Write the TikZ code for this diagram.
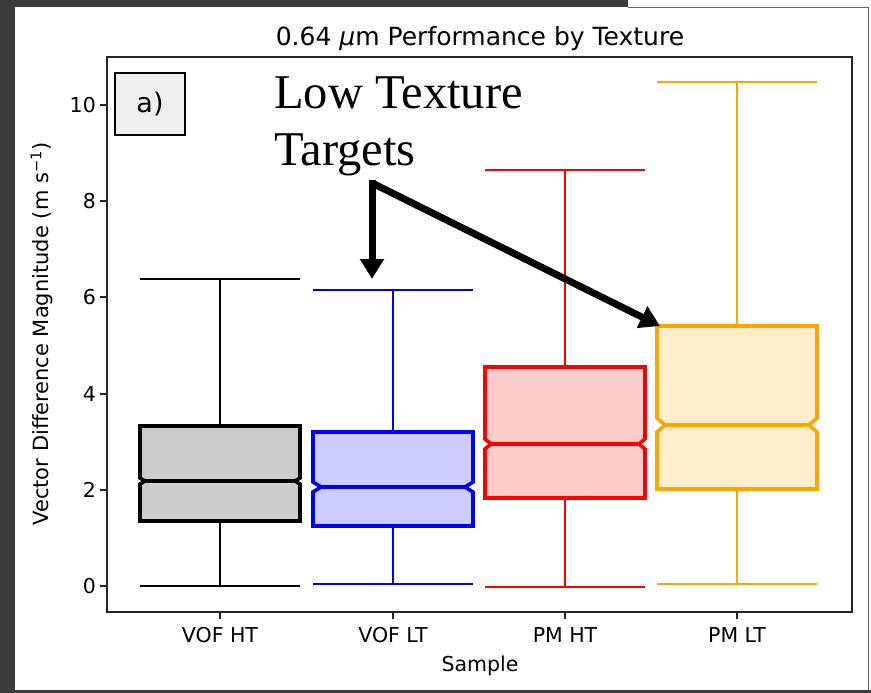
\documentclass[tikz,border=0pt]{standalone}
\usepackage{fontspec}
\setmainfont{DejaVu Sans}
\newfontfamily\annfont{Liberation Serif}
\usetikzlibrary{arrows.meta}

\definecolor{framegray}{HTML}{3C3C3C}
\definecolor{graybox}{HTML}{CCCCCC}
\definecolor{bluebox}{HTML}{CCCCFF}
\definecolor{redbox}{HTML}{FFCCCC}
\definecolor{mplorange}{HTML}{FFA500}
\definecolor{orangebox}{HTML}{FFEDCC}
\definecolor{labelbox}{HTML}{EEEEEE}

% notched box with whiskers and caps (pixel units, y downwards)
% #1 centre, #2 lower cap, #3 Q1, #4 median, #5 Q3, #6 upper cap,
% #7 notch half height, #8 notch depth
\newcommand{\notchbox}[8]{%
  \draw[whisk] (#1,#3) -- (#1,#2) (#1-80,#2) -- (#1+80,#2);
  \draw[whisk] (#1,#5) -- (#1,#6) (#1-80,#6) -- (#1+80,#6);
  \filldraw[boxedge]
    ({#1-80},#3) -- ({#1+80},#3) -- ({#1+80},{#4+#7}) -- ({#1+80-#8},#4)
    -- ({#1+80},{#4-#7}) -- ({#1+80},#5) -- ({#1-80},#5) -- ({#1-80},{#4-#7})
    -- ({#1-80+#8},#4) -- ({#1-80},{#4+#7}) -- cycle;
  \draw[medline] ({#1-80+#8},#4) -- ({#1+80-#8},#4);
}

\begin{document}
\begin{tikzpicture}[x=1pt, y=-1pt,
  whisk/.style={line width=2.8pt, line cap=butt},
  boxedge/.style={line width=3.6pt, line join=miter},
  medline/.style={line width=3.8pt},
  spine/.style={line width=1.7pt, draw=black!85},
  tickmark/.style={line width=1.4pt, draw=black!85},
  ticklab/.style={inner sep=0pt, font=\fontsize{20.5}{24}\selectfont},
  arr/.style={line width=7pt, -{Triangle[width=23pt,length=20pt]}, line join=miter}]

\useasboundingbox (0,0) rectangle (871,693);

% screen frame around the figure
\fill[white] (0,0) rectangle (871,693);
\fill[framegray] (0,0) rectangle (15,693);
\fill[framegray] (0,0) rectangle (628,7.5);
\fill[framegray] (0,690) rectangle (871,693);
\draw[framegray!80, line width=1pt] (628,8) -- (868,8) -- (868,690);

% axes frame
\draw[spine] (107,57) rectangle (852,612);

% y ticks
\foreach \v/\yy in {0/586,2/490,4/394,6/297,8/201,10/105} {
  \draw[tickmark] (100,\yy) -- (107,\yy);
  \node[ticklab, anchor=east] (yt\v) at (96,\yy) {\v};
}

% x ticks
\foreach \cx/\lab/\nm in {220/VOF HT/a,393/VOF LT/b,565/PM HT/c,737/PM LT/d} {
  \draw[tickmark] (\cx,612) -- (\cx,619);
  \node[ticklab, anchor=base] (xt\nm) at (\cx,642) {\lab};
}

% boxes
\begin{scope}[whisk/.append style={draw=black}, boxedge/.append style={draw=black, fill=graybox}, medline/.append style={draw=black}]
  \notchbox{220}{586}{521}{481}{426}{279}{3}{5}
\end{scope}
\begin{scope}[whisk/.append style={draw=blue}, boxedge/.append style={draw=blue, fill=bluebox}, medline/.append style={draw=blue}]
  \notchbox{393}{584}{526}{487}{432}{290}{5}{8}
\end{scope}
\begin{scope}[whisk/.append style={draw=red}, boxedge/.append style={draw=red, fill=redbox}, medline/.append style={draw=red}]
  \notchbox{565}{587}{498}{444}{367}{170}{5}{6}
\end{scope}
\begin{scope}[whisk/.append style={draw=mplorange}, boxedge/.append style={draw=mplorange, fill=orangebox}, medline/.append style={draw=mplorange}]
  \notchbox{737}{584}{489}{425}{326}{82}{7}{8}
\end{scope}

% titles and axis labels
\node[inner sep=0pt, anchor=base, font=\fontsize{25}{30}\selectfont] (title) at (480,46)
  {0.64 {\itshape μ}m Performance by Texture};
\node[inner sep=0pt, anchor=base, font=\fontsize{20.5}{24}\selectfont] (xlab) at (480,671) {Sample};
\node[inner sep=0pt, rotate=90, font=\fontsize{21}{24}\selectfont] (ylab) at (42,334)
  {Vector Difference Magnitude (m s\textsuperscript{−1})};

% panel label
\node[draw=black, line width=1.2pt, fill=labelbox, minimum width=70pt, minimum height=62pt,
      inner sep=0pt, font=\fontsize{27}{30}\selectfont] (panel) at (150,104) {a)};

% annotation
\node[inner sep=0pt, anchor=north west, align=left, font=\annfont\fontsize{48.5}{57}\selectfont]
  (note) at (274,77) {Low Texture\\Targets};
\coordinate (elbow) at (372,183);
\coordinate (tipvof) at (372,279);
\coordinate (tippm) at (660,326);
\draw[arr] (elbow) -- (tipvof);
\draw[arr] (elbow) -- (tippm);
\fill (elbow) ++(-3.5,-3.5) rectangle ++(7,7);

\end{tikzpicture}
\end{document}
